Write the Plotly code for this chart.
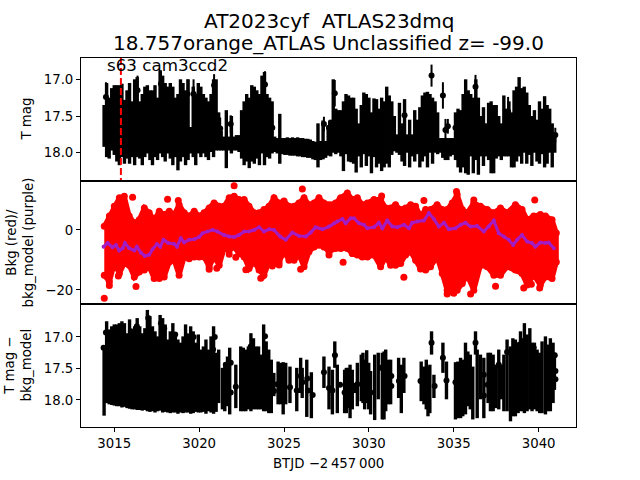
import numpy as np
import plotly.graph_objects as go
from plotly.subplots import make_subplots

# --------------------------------
# top panel: T mag columns (bright edge, faint edge)
# --------------------------------
t_bjd = [
    3014.40, 3014.55, 3014.70, 3014.85, 3015.00, 3015.15, 3015.30, 3015.45, 3015.60, 3015.75,
    3015.90, 3016.05, 3016.20, 3016.35, 3016.50, 3016.65, 3016.80, 3016.95, 3017.10, 3017.25,
    3017.40, 3017.55, 3017.70, 3017.85, 3018.00, 3018.15, 3018.30, 3018.45, 3018.60, 3018.75,
    3018.90, 3019.05, 3019.20, 3019.35, 3019.50, 3019.65, 3019.80, 3019.95, 3020.10, 3020.25,
    3020.40, 3020.55, 3020.70, 3020.85, 3021.00, 3021.15, 3021.30, 3021.45, 3021.60, 3021.75,
    3021.90, 3022.05, 3022.20, 3022.35, 3022.50, 3022.65, 3022.80, 3022.95, 3023.10, 3023.25,
    3023.40, 3023.55, 3023.70, 3023.85, 3024.00, 3024.15, 3024.30, 3024.45, 3024.60, 3024.75,
    3024.90, 3025.05, 3025.20, 3025.35, 3025.50, 3025.65, 3025.80, 3025.95, 3026.10, 3026.25,
    3026.40, 3026.55, 3026.70, 3026.85, 3027.00, 3027.15, 3027.30, 3027.45, 3027.60,
    3027.75, 3027.90, 3028.05, 3028.20, 3028.35, 3028.50, 3028.65, 3028.80, 3028.95, 3029.10,
    3029.25, 3029.40, 3029.55, 3029.70, 3029.85, 3030.00, 3030.15, 3030.30, 3030.45, 3030.60,
    3030.75, 3030.90, 3031.05, 3031.20, 3031.35, 3031.50, 3031.65, 3031.80, 3031.95, 3032.10,
    3032.25, 3032.40, 3032.55, 3032.70, 3032.85, 3033.00, 3033.15, 3033.30, 3033.45, 3033.60,
    3033.75, 3033.90, 3034.05, 3034.20, 3034.35, 3034.50, 3034.65, 3034.80, 3034.95, 3035.10,
    3035.25, 3035.40, 3035.55, 3035.70, 3035.85, 3036.00, 3036.15, 3036.30, 3036.45, 3036.60,
    3036.75, 3036.90, 3037.05, 3037.20, 3037.35, 3037.50, 3037.65, 3037.80, 3037.95, 3038.10,
    3038.25, 3038.40, 3038.55, 3038.70, 3038.85, 3039.00, 3039.15, 3039.30, 3039.45, 3039.60,
    3039.75, 3039.90, 3040.05, 3040.20, 3040.35, 3040.50, 3040.65, 3040.80, 3040.95,
]
t_upper = [
    17.35, 17.05, 17.25, 17.12, 17.08, 17.08, 17.08, 17.06, 17.28, 17.15,
    17.05, 17.30, 17.00, 16.97, 17.30, 17.20, 17.10, 17.08, 17.15, 17.15,
    17.08, 17.25, 16.88, 16.95, 17.05, 17.10, 17.05, 17.10, 17.25, 17.20,
    17.00, 17.05, 17.15, 17.00, 17.65, 17.10, 17.20, 17.05, 17.10, 17.20,
    17.25, 17.30, 17.20, 17.00, 17.00, 17.45, 17.70, 17.78, 17.42, 17.78,
    17.50, 17.78, 17.76, 17.76, 17.42, 17.30, 17.20, 17.25, 17.08, 17.10,
    17.15, 17.20, 16.95, 16.90, 17.20, 17.25, 17.30, 17.78, 17.80, 17.47,
    17.80, 17.80, 17.79, 17.80, 17.79, 17.80, 17.79, 17.80, 17.80, 17.81,
    17.81, 17.82, 17.84, 17.85, 17.60, 17.84, 17.56, 17.84, 17.63,
    17.55, 17.00, 17.40, 17.42, 17.42, 17.30, 17.20, 17.22, 17.25, 17.25,
    17.40, 17.60, 17.35, 17.18, 17.20, 17.25, 17.45, 17.26, 17.27, 17.40,
    17.25, 17.30, 17.10, 17.22, 17.30, 17.50, 17.75, 17.32, 17.60, 17.27,
    17.75, 17.55, 17.75, 17.42, 17.55, 17.38, 17.22, 17.18, 17.17, 17.20,
    17.25, 17.30, 17.45, 17.80, 17.80, 17.80, 17.80, 17.80, 17.80, 17.45,
    17.40, 17.42, 17.20, 17.00, 17.15, 17.20, 17.25, 17.00, 17.25, 17.50,
    17.38, 17.60, 17.32, 17.30, 17.35, 17.35, 17.50, 17.60, 17.22, 17.40,
    17.30, 17.45, 17.15, 17.10, 16.97, 17.12, 17.10, 17.18, 17.35, 17.50,
    17.42, 17.55, 17.30, 17.40, 17.23, 17.35, 17.40, 17.60, 17.75,
]
t_lower = [
    17.92, 18.06, 18.08, 17.97, 18.03, 18.12, 18.17, 18.06, 18.15, 18.08,
    18.15, 18.06, 18.17, 18.06, 18.08, 18.17, 18.06, 18.01, 18.10, 18.17,
    18.06, 18.10, 18.01, 18.06, 18.12, 18.01, 18.08, 18.17, 18.06, 18.24,
    18.12, 18.06, 18.17, 18.10, 18.01, 18.06, 18.17, 18.01, 18.06, 18.01,
    18.06, 18.10, 17.99, 18.06, 17.97, 17.97, 17.97, 17.97, 18.21, 17.97,
    18.01, 17.97, 17.97, 17.99, 18.08, 18.17, 18.12, 18.21, 18.12, 18.15,
    18.08, 18.17, 18.01, 18.17, 18.06, 18.08, 18.01, 17.99, 18.01, 18.15,
    18.02, 18.03, 18.03, 18.04, 18.04, 18.04, 18.05, 18.05, 18.06, 18.06,
    18.07, 18.07, 18.09, 18.10, 18.20, 18.10, 18.09, 18.07, 18.04,
    18.05, 18.00, 18.02, 18.00, 18.05, 18.25, 18.02, 18.12, 18.13, 18.15,
    18.27, 18.05, 18.20, 18.02, 18.18, 18.05, 18.28, 18.06, 18.20, 18.15,
    18.25, 18.20, 18.15, 18.20, 18.03, 17.98, 18.00, 18.03, 18.12, 18.18,
    18.00, 18.20, 18.05, 18.12, 18.02, 18.20, 18.12, 18.05, 18.20, 18.00,
    18.15, 18.00, 18.02, 18.00, 18.07, 18.10, 18.10, 18.05, 18.03, 18.10,
    18.20, 18.27, 18.20, 18.28, 18.30, 18.05, 18.28, 18.10, 18.30, 18.05,
    18.18, 18.05, 18.10, 18.28, 18.28, 18.08, 18.05, 18.10, 18.05, 18.05,
    18.05, 18.20, 18.20, 18.12, 18.05, 18.15, 18.00, 18.15, 18.03, 18.18,
    18.00, 18.12, 18.15, 18.02, 18.20, 18.15, 18.00, 18.20, 18.00,
]
# points that stick out of the block, with their own bars
t_pt_bjd = [3014.51, 3016.37, 3017.75, 3019.31, 3019.67, 3020.88, 3021.24, 3021.86, 3023.88, 3024.31,
            3027.35, 3027.65, 3027.99, 3032.10, 3033.69, 3034.36, 3034.51, 3034.65, 3035.10, 3036.28,
            3036.77, 3037.95, 3038.20, 3040.98]
t_pt_mag = [17.24, 17.15, 17.06, 17.20, 17.20, 17.08, 17.67, 17.61, 17.07, 17.66,
            17.61, 17.66, 17.19, 17.49, 16.95, 17.22, 17.69, 17.64, 17.66, 17.10,
            17.64, 17.69, 17.44, 17.76]
t_pt_err = [0.20, 0.20, 0.18, 0.20, 0.20, 0.15, 0.15, 0.12, 0.18, 0.10,
            0.10, 0.10, 0.18, 0.20, 0.15, 0.18, 0.15, 0.10, 0.20, 0.16,
            0.20, 0.20, 0.20, 0.10]
event_bjd = [3015.39, 3015.39]
event_mag = [16.71, 18.385]

# -------------------------------------
# middle panel: background, red cloud edges + model line
# -------------------------------------
bkg_bjd = [
    3014.41, 3014.71, 3015.00, 3015.30, 3015.59, 3015.88, 3016.18, 3016.47, 3016.77, 3017.06,
    3017.35, 3017.65, 3017.94, 3018.24, 3018.53, 3018.82, 3019.12, 3019.41, 3019.71, 3020.00,
    3020.29, 3020.59, 3020.88, 3021.18, 3021.47, 3021.77, 3022.06, 3022.35, 3022.65, 3022.94,
    3023.24, 3023.53, 3023.82, 3024.12, 3024.41, 3024.71, 3025.00, 3025.29, 3025.59, 3025.88,
    3026.18, 3026.47, 3026.77, 3027.06, 3027.35, 3027.65, 3028.04, 3028.34, 3028.73, 3029.02,
    3029.32, 3029.61, 3029.91, 3030.30, 3030.69, 3030.99, 3031.28, 3031.57, 3031.87, 3032.16,
    3032.46, 3032.75, 3033.04, 3033.34, 3033.63, 3034.02, 3034.32, 3034.61, 3034.91, 3035.20,
    3035.50, 3035.79, 3036.18, 3036.57, 3036.97, 3037.36, 3037.75, 3038.14, 3038.63, 3039.02,
    3039.32, 3039.71, 3040.10, 3040.40, 3040.79, 3041.04,
]
bkg_high = [
    1.2, 4.6, 7.9, 10.7, 11.2, 4.6, 2.3, 3.4, 7.3, 5.7,
    3.4, 6.2, 5.1, 6.2, 5.1, 8.4, 5.7, 4.6, 6.2, 4.6,
    5.7, 7.3, 9.0, 7.9, 7.9, 10.7, 11.2, 10.1, 10.1, 7.9,
    5.7, 5.7, 6.8, 7.9, 10.7, 9.0, 9.6, 7.9, 7.9, 9.0,
    10.7, 8.4, 9.0, 10.7, 9.0, 8.4, 9.0, 10.7, 12.3, 10.1,
    10.7, 8.4, 9.0, 10.1, 10.1, 7.3, 7.3, 8.4, 6.8, 7.3,
    8.4, 7.9, 4.6, 6.8, 6.8, 8.4, 6.8, 6.8, 9.0, 11.8,
    6.8, 5.7, 9.0, 7.9, 6.8, 5.7, 7.3, 5.7, 8.4, 6.8,
    3.4, 4.6, 5.1, 4.6, 3.4, -1.0,
]
bkg_low = [
    -15.1, -17.3, -11.2, -14.5, -11.2, -11.8, -15.7, -14.0, -13.4, -12.3,
    -16.2, -16.2, -15.7, -10.7, -10.1, -15.1, -9.0, -9.6, -9.0, -9.0,
    -9.0, -12.3, -9.0, -11.8, -6.2, -6.8, -5.7, -7.9, -9.0, -12.9,
    -10.7, -13.4, -15.1, -10.7, -11.2, -10.7, -7.3, -10.1, -10.1, -8.4,
    -12.3, -7.3, -5.7, -5.1, -5.7, -7.3, -6.2, -6.2, -6.2, -7.9,
    -8.4, -9.0, -9.0, -8.4, -12.3, -9.0, -11.8, -11.8, -11.2, -8.4,
    -7.3, -10.1, -13.0, -13.4, -12.3, -9.0, -14.5, -20.1, -20.7, -20.1,
    -17.9, -15.1, -20.1, -11.8, -12.3, -15.1, -15.1, -12.3, -13.4, -14.5,
    -18.4, -15.1, -18.4, -15.7, -16.2, -10.7,
]
bkg_pt_bjd = [3022.06, 3014.41, 3014.71, 3015.24, 3016.08, 3016.28, 3018.14, 3018.77, 3020.59, 3021.04,
              3021.77, 3022.16, 3022.75, 3023.63, 3024.31, 3024.71, 3025.98, 3026.08, 3027.65, 3035.16,
              3036.18, 3039.77, 3028.48, 3032.06, 3035.99, 3037.46, 3040.06, 3039.57, 3039.12, 3028.30,
              3030.75, 3033.24, 3034.61, 3035.00]
bkg_pt_val = [14.7, -22.8, -18.5, -15.4, 10.9, -18.9, 10.2, 9.8, -13.1, -12.8,
              -8.1, -9.1, -13.3, -16.1, -12.0, -11.7, -13.1, 13.6, -8.4, 12.8,
              10.0, 10.0, -10.8, -15.8, -21.4, -18.8, -19.4, -18.1, -19.4, 10.2,
              11.3, 9.8, -21.4, -21.1]
model_bjd = [
    3014.37, 3014.61, 3014.90, 3015.10, 3015.29, 3015.49, 3015.63, 3015.88, 3016.18, 3016.33,
    3016.57, 3016.80, 3017.06, 3017.26, 3017.51, 3017.71, 3017.90, 3018.18, 3018.53, 3018.69,
    3018.92, 3019.12, 3019.41, 3019.71, 3020.00, 3020.20, 3020.49, 3020.79, 3021.08, 3021.47,
    3021.77, 3022.06, 3022.35, 3022.65, 3022.94, 3023.24, 3023.53, 3023.82, 3024.12, 3024.41,
    3024.77, 3025.10, 3025.49, 3025.88, 3026.28, 3026.57, 3026.86, 3027.26, 3027.65, 3027.95,
    3028.14, 3028.44, 3028.63, 3028.93, 3029.12, 3029.42, 3029.71, 3029.91, 3030.30, 3030.59,
    3030.79, 3031.08, 3031.38, 3031.67, 3032.06, 3032.36, 3032.55, 3032.85, 3033.24, 3033.53,
    3033.83, 3034.12, 3034.42, 3034.71, 3035.10, 3035.40, 3035.69, 3035.99, 3036.38, 3036.77,
    3037.06, 3037.36, 3037.65, 3037.95, 3038.24, 3038.50, 3038.73, 3039.02, 3039.32, 3039.61,
    3039.81, 3040.10, 3040.40, 3040.59, 3040.89,
]
model_val = [
    -5.6, -4.4, -5.8, -5.0, -6.9, -6.1, -4.4, -6.1, -6.9, -5.6,
    -7.6, -8.7, -8.3, -6.4, -4.7, -5.6, -3.3, -4.4, -4.7, -5.6,
    -2.8, -4.2, -3.3, -3.1, -2.4, -1.1, -0.55, 0.0, -0.55, -1.7,
    -2.2, -2.4, -1.7, -0.55, -0.55, 0.0, 0.9, -0.55, 0.2, 0.0,
    -2.2, -3.3, -0.9, -2.0, -2.2, -0.9, 0.9, 0.2, 1.1, 2.2,
    2.8, 3.6, 2.2, 3.9, 3.9, 2.2, 1.7, 0.55, 0.9, 2.4,
    0.55, 3.1, 1.1, 0.9, 1.7, 0.55, 2.4, 2.8, 3.1, 5.6,
    3.6, 1.1, 2.4, 0.2, 0.55, 1.7, 2.4, 1.1, 1.3, -0.55,
    1.1, 3.1, -1.1, -2.2, -3.3, -5.0, -3.3, -1.7, -3.9, -4.4,
    -5.6, -4.2, -4.4, -4.2, -6.1,
]

# ----------------------------
# bottom panel: T mag - bkg_model columns
# ----------------------------
d_bjd = [
    3014.40, 3014.55, 3014.70, 3014.85, 3015.00, 3015.15, 3015.30, 3015.45, 3015.60, 3015.75,
    3015.90, 3016.05, 3016.20, 3016.35, 3016.50, 3016.65, 3016.80, 3016.95, 3017.10, 3017.25,
    3017.40, 3017.55, 3017.70, 3017.85, 3018.00, 3018.15, 3018.30, 3018.45, 3018.60, 3018.75,
    3018.90, 3019.05, 3019.20, 3019.35, 3019.50, 3019.65, 3019.80, 3019.95, 3020.10, 3020.25,
    3020.40, 3020.55, 3020.70, 3020.85, 3021.00, 3021.15,
    3021.37, 3021.51, 3021.67, 3021.80, 3022.16, 3022.45, 3022.60, 3022.75, 3022.90, 3023.05,
    3023.20, 3023.35, 3023.50, 3023.65, 3023.80, 3023.95, 3024.10, 3024.25, 3024.40, 3024.65,
    3024.80, 3024.95, 3025.10, 3025.35, 3025.75, 3025.98, 3026.07, 3026.34, 3026.61, 3027.35,
    3027.65, 3027.85, 3027.99, 3028.14, 3028.57, 3028.67, 3028.77, 3028.89, 3029.02, 3029.16,
    3029.32, 3029.55, 3029.65, 3029.75, 3029.87, 3029.99, 3030.10, 3030.34, 3030.55, 3030.79,
    3030.89, 3030.99, 3031.12, 3031.28, 3031.75, 3031.91, 3032.06, 3033.08, 3033.24, 3033.38,
    3033.48, 3033.59, 3033.69, 3033.83, 3034.36, 3034.57, 3035.10, 3035.24, 3035.40, 3035.53,
    3035.69, 3035.83, 3035.97, 3036.12, 3036.28, 3036.38, 3036.57, 3036.77, 3037.02, 3037.16,
    3037.32, 3037.46, 3037.65, 3037.81, 3037.95, 3038.14, 3038.34, 3038.48, 3038.63, 3038.79,
    3038.93, 3039.08, 3039.16, 3039.32, 3039.48, 3039.61, 3039.75, 3039.91, 3040.06, 3040.20,
    3040.40, 3040.53, 3040.69, 3040.85, 3040.93,
]
d_upper = [
    17.17, 16.75, 16.88, 16.83, 16.80, 16.80, 16.78, 16.75, 16.78, 16.94,
    16.72, 16.88, 16.83, 16.70, 16.83, 16.94, 16.86, 16.57, 16.67, 16.83,
    16.91, 16.99, 16.65, 16.70, 16.80, 17.04, 16.91, 16.78, 16.94, 17.04,
    17.09, 16.99, 16.80, 16.99, 16.83, 16.91, 17.09, 16.96, 17.20, 17.15,
    17.04, 17.20, 16.99, 16.83, 17.25, 17.20,
    17.49, 17.41, 17.31, 17.17, 17.44, 17.15, 17.17, 17.20, 17.15, 16.94,
    17.02, 17.15, 17.15, 17.28, 16.80, 17.07, 17.20, 17.36, 17.57, 17.39,
    17.41, 17.40, 17.41, 17.47, 17.49, 17.33, 17.49, 17.36, 17.56, 17.31,
    17.47, 17.52, 17.07, 17.44, 17.52, 17.49, 17.49, 17.44, 17.52, 17.73,
    17.41, 17.28, 17.25, 17.36, 17.21, 17.41, 17.54, 17.28, 17.25, 17.25,
    17.23, 17.20, 17.36, 17.36, 17.33, 17.44, 17.33, 17.39, 17.47, 17.36,
    17.47, 17.44, 16.91, 17.60, 17.09, 17.39, 17.40, 17.39, 17.33, 17.36,
    17.09, 17.23, 17.28, 17.47, 16.91, 17.20, 17.28, 17.33, 17.25, 17.25,
    17.28, 17.44, 17.20, 17.44, 17.28, 17.04, 17.15, 17.02, 17.04, 17.09,
    16.91, 17.02, 16.78, 16.96, 16.86, 17.09, 17.09, 17.20, 17.25, 17.07,
    16.99, 17.12, 17.02, 17.09, 17.25,
]
d_lower = [
    18.25, 18.05, 18.07, 18.08, 18.09, 18.10, 18.10, 18.12, 18.11, 18.13,
    18.14, 18.15, 18.15, 18.16, 18.16, 18.17, 18.16, 18.18, 18.19, 18.18,
    18.20, 18.18, 18.17, 18.20, 18.19, 18.20, 18.21, 18.20, 18.20, 18.22,
    18.20, 18.21, 18.20, 18.20, 18.22, 18.21, 18.19, 18.20, 18.20, 18.19,
    18.22, 18.18, 18.20, 18.22, 18.19, 18.05,
    18.15, 18.18, 18.10, 18.23, 18.13, 18.18, 18.18, 18.18, 18.15, 18.18,
    18.15, 18.15, 18.15, 18.15, 18.18, 18.18, 18.21, 18.21, 17.94, 18.07,
    18.07, 18.23, 18.07, 18.05, 18.18, 17.89, 17.97, 18.27, 18.29, 17.81,
    18.15, 18.23, 17.49, 18.21, 18.21, 18.21, 18.13, 18.29, 18.15, 17.89,
    18.10, 18.02, 18.05, 18.15, 18.05, 18.15, 18.23, 18.32, 17.99, 18.31,
    18.31, 18.18, 18.07, 18.07, 17.97, 18.21, 17.89, 18.02, 18.07, 18.15,
    18.26, 18.21, 17.28, 17.97, 17.57, 17.99, 18.31, 18.29, 18.29, 18.26,
    18.23, 18.10, 18.15, 18.31, 17.28, 18.29, 17.99, 18.29, 18.05, 18.18,
    18.18, 18.13, 18.15, 17.99, 18.18, 18.18, 18.34, 18.26, 18.26, 18.21,
    18.18, 18.18, 18.21, 18.18, 18.15, 18.18, 18.15, 18.18, 18.21, 18.21,
    18.23, 18.18, 18.18, 18.05, 17.84,
]
d_pt_bjd = [3014.51, 3014.37, 3015.98, 3016.33, 3017.00, 3017.75, 3017.94, 3018.59, 3019.31, 3019.67,
            3020.92, 3020.82, 3023.88, 3023.04, 3021.86, 3021.57, 3022.16, 3021.86, 3024.41, 3024.61,
            3025.35, 3025.75, 3025.98, 3026.08, 3026.37, 3026.41, 3026.69, 3027.35, 3027.65, 3027.85,
            3028.00, 3028.30, 3028.57, 3029.32, 3029.81, 3030.10, 3030.69, 3030.89, 3031.32, 3031.32,
            3031.77, 3032.10, 3033.04, 3033.87, 3033.69, 3034.36, 3034.57, 3035.10, 3035.89, 3036.28,
            3036.77, 3036.77, 3037.00, 3037.65, 3038.14, 3038.89, 3039.71, 3040.95, 3040.99, 3040.99]
d_pt_mag = [16.93, 17.17, 16.91, 16.83, 16.70, 16.78, 16.86, 16.96, 16.99, 17.00,
            17.00, 17.20, 16.99, 17.15, 17.41, 17.44, 17.79, 17.88, 17.86, 17.75,
            17.80, 17.85, 17.62, 17.72, 17.66, 17.85, 17.92, 17.56, 17.81, 17.85,
            17.29, 17.76, 17.88, 17.75, 17.44, 17.88, 17.49, 17.96, 17.62, 17.78,
            17.70, 17.62, 17.70, 17.78, 17.09, 17.33, 17.69, 17.72, 17.33, 17.09,
            17.60, 17.93, 17.76, 17.44, 17.24, 17.12, 17.17, 17.29, 17.54, 17.67]

black = "#000000"
red = "#ff0000"
purple = "#a31cc4"
fig = make_subplots(rows=3, cols=1, shared_xaxes=True, vertical_spacing=0)

# T mag
t_up = np.array(t_upper)
t_lo = np.array(t_lower)
fig.add_trace(go.Scatter(x=t_bjd, y=(t_up + t_lo) / 2, mode="markers", marker=dict(size=1, color=black),
                         error_y=dict(type="data", array=(t_lo - t_up) / 2, color=black, thickness=3.4, width=0)),
              row=1, col=1)
fig.add_trace(go.Scatter(x=t_pt_bjd, y=t_pt_mag, mode="markers", marker=dict(size=6, color=black),
                         error_y=dict(type="data", array=t_pt_err, color=black, thickness=2, width=0)),
              row=1, col=1)
fig.add_trace(go.Scatter(x=event_bjd, y=event_mag, mode="lines",
                         line=dict(color=red, width=2, dash="7px,3px")), row=1, col=1)

# background: filled cloud between the edges, round points along them
fig.add_trace(go.Scatter(x=bkg_bjd + bkg_bjd[::-1], y=bkg_high + bkg_low[::-1], mode="lines", fill="toself",
                         fillcolor=red, line=dict(color=red, width=5)), row=2, col=1)
fig.add_trace(go.Scatter(x=bkg_bjd + bkg_bjd + bkg_pt_bjd, y=bkg_high + bkg_low + bkg_pt_val, mode="markers",
                         marker=dict(size=7, color=red)), row=2, col=1)
fig.add_trace(go.Scatter(x=model_bjd, y=model_val, mode="lines+markers",
                         line=dict(color=purple, width=3), marker=dict(size=4, color=purple)),
              row=2, col=1)

# T mag - model
d_up = np.array(d_upper)
d_lo = np.array(d_lower)
fig.add_trace(go.Scatter(x=d_bjd, y=(d_up + d_lo) / 2, mode="markers", marker=dict(size=1, color=black),
                         error_y=dict(type="data", array=(d_lo - d_up) / 2, color=black, thickness=3.4, width=0)),
              row=3, col=1)
fig.add_trace(go.Scatter(x=d_pt_bjd, y=d_pt_mag, mode="markers", marker=dict(size=6, color=black)),
              row=3, col=1)

label_font = dict(family="DejaVu Sans", size=13.3, color=black)
axis_style = dict(showgrid=False, zeroline=False, showline=True, linecolor=black, linewidth=1, mirror=True,
                  ticks="outside", ticklen=4, tickwidth=1, tickcolor=black, tickfont=label_font)
fig.update_xaxes(range=[3013.04, 3042.2], **axis_style)
fig.update_xaxes(ticks="", showticklabels=False, row=1, col=1)
fig.update_xaxes(ticks="", showticklabels=False, row=2, col=1)
fig.update_xaxes(tickvals=[3015, 3020, 3025, 3030, 3035, 3040], tickformat="d", row=3, col=1)
fig.update_yaxes(**axis_style)
fig.update_yaxes(range=[18.385, 16.71], tickvals=[17.0, 17.5, 18.0], tickformat=".1f", row=1, col=1)
fig.update_yaxes(range=[-24.7, 16.3], tickvals=[-20, 0], row=2, col=1)
fig.update_yaxes(range=[18.43, 16.476], tickvals=[17.0, 17.5, 18.0], tickformat=".1f", row=3, col=1)

# axis labels as annotations, axis titles with a standoff push the margins about
y_labels = [("y domain", "T mag", -55), ("y2 domain", "Bkg (red)/<br>bkg_model (purple)", -62),
            ("y3 domain", "T mag \u2212<br>bkg_model", -64)]
for yref, label, shift in y_labels:
    fig.add_annotation(text=label, xref="paper", yref=yref, x=0, y=0.5, xshift=shift, textangle=-90,
                       xanchor="center", yanchor="middle", showarrow=False, font=label_font)
fig.add_annotation(text="BTJD \u22122\u2009457\u2009000", xref="paper", yref="paper", x=0.5, y=0, yshift=-36,
                   xanchor="center", yanchor="middle", showarrow=False, font=label_font)

fig.add_annotation(text="s63 cam3ccd2", xref="x", yref="y", x=3014.45, y=16.8, xanchor="left", yanchor="middle",
                   showarrow=False, font=dict(family="DejaVu Sans", size=16.7, color=black))
# two title lines set apart by hand, a <br> title spreads them too far
title_font = dict(family="DejaVu Sans", size=20, color=black)
fig.add_annotation(text="AT2023cyf  ATLAS23dmq", xref="paper", yref="paper", x=0.5, y=1, yshift=37,
                   xanchor="center", yanchor="middle", showarrow=False, font=title_font)
fig.add_annotation(text="18.757orange_ATLAS Unclassified z= -99.0", xref="paper", yref="paper", x=0.5, y=1, yshift=15,
                   xanchor="center", yanchor="middle", showarrow=False, font=title_font)

fig.update_layout(
    width=640, height=480, autosize=False, showlegend=False,
    paper_bgcolor="white", plot_bgcolor="white",
    margin=dict(l=81, r=64, t=58, b=53),
)
# drop the page's 8px body margin, the leftmost label sits closer to the edge than that
fig.write_html("out.html", config={"displayModeBar": False}, post_script="document.body.style.margin = '0';")
